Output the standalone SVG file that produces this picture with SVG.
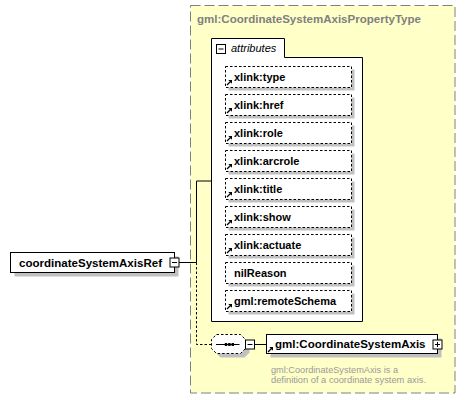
<svg xmlns="http://www.w3.org/2000/svg" width="467" height="400" viewBox="0 0 467 400">
<defs>
<style>
.b{font-family:"Liberation Sans",Arial,sans-serif;font-weight:bold;font-size:11px;fill:#000}
.title{font-family:"Liberation Sans",Arial,sans-serif;font-weight:bold;font-size:11px;fill:#808080}
.desc{font-family:"Liberation Sans",Arial,sans-serif;font-size:9px;fill:#9a9a9a}
.it{font-family:"Liberation Sans",Arial,sans-serif;font-style:italic;font-size:11px;fill:#000}
.sh{fill:#c0c0c0;stroke:none}
.att{fill:#fff;stroke:#000;stroke-width:1;stroke-dasharray:2.5,2}
.box{fill:#fff;stroke:#000;stroke-width:1}
.ic{fill:#fff;stroke:#000;stroke-width:1}
.ln{fill:none;stroke:#000;stroke-width:1}
.dl{fill:none;stroke:#000;stroke-width:1;stroke-dasharray:2.5,2}
</style>
<g id="arr">
<path d="M0.5,5 L4,1.5" stroke="#000" stroke-width="1.2" fill="none"/>
<path d="M1.8,0 L5.5,0 L5.5,3.7 Z" fill="#000"/>
</g>
</defs>

<g id="complexType">
<rect x="190.5" y="5.5" width="264.5" height="387.5" fill="#ffffc8" stroke="#808080" stroke-width="1" stroke-dasharray="10,4"/>
<text class="title" x="197" y="23" textLength="224" lengthAdjust="spacingAndGlyphs">gml:CoordinateSystemAxisPropertyType</text>
</g>

<g id="connectors">
<path class="ln" d="M179,262.5 H196.5 M196.5,181 V262.5 M196.5,181 H211"/>
<path class="dl" d="M196.5,262.5 V344.5 H211.5"/>
<path class="ln" d="M254.5,344.5 H266.5"/>
</g>

<g id="coordinateSystemAxisRef">
<rect class="sh" x="14.5" y="256.5" width="164" height="20"/>
<rect class="box" x="10.5" y="252.5" width="164" height="20"/>
<text class="b" x="19" y="266.5" textLength="143" lengthAdjust="spacingAndGlyphs">coordinateSystemAxisRef</text>
<rect class="ic" x="170" y="258" width="9" height="9"/>
<path class="ln" d="M172,262.5 H177"/>
</g>

<g id="attributes">
<path class="box" d="M211.5,38.5 H284.5 V57.5 H362.5 V321.5 H211.5 Z"/>
<rect class="ic" x="216.5" y="44.5" width="9" height="9"/>
<path class="ln" d="M218.5,49 H223.5"/>
<text class="it" x="231" y="52">attributes</text>
</g>

<g id="attr-xlink-type">
<rect class="sh" x="228.5" y="69.5" width="126" height="21"/>
<rect class="att" x="225.5" y="66.5" width="126" height="21"/>
<use href="#arr" x="226.5" y="80"/>
<text class="b" x="234" y="80.5">xlink:type</text>
</g>
<g id="attr-xlink-href">
<rect class="sh" x="228.5" y="97.5" width="126" height="21"/>
<rect class="att" x="225.5" y="94.5" width="126" height="21"/>
<use href="#arr" x="226.5" y="108"/>
<text class="b" x="234" y="108.5">xlink:href</text>
</g>
<g id="attr-xlink-role">
<rect class="sh" x="228.5" y="125.5" width="126" height="21"/>
<rect class="att" x="225.5" y="122.5" width="126" height="21"/>
<use href="#arr" x="226.5" y="136"/>
<text class="b" x="234" y="136.5">xlink:role</text>
</g>
<g id="attr-xlink-arcrole">
<rect class="sh" x="228.5" y="153.5" width="126" height="21"/>
<rect class="att" x="225.5" y="150.5" width="126" height="21"/>
<use href="#arr" x="226.5" y="164"/>
<text class="b" x="234" y="164.5">xlink:arcrole</text>
</g>
<g id="attr-xlink-title">
<rect class="sh" x="228.5" y="181.5" width="126" height="21"/>
<rect class="att" x="225.5" y="178.5" width="126" height="21"/>
<use href="#arr" x="226.5" y="192"/>
<text class="b" x="234" y="192.5">xlink:title</text>
</g>
<g id="attr-xlink-show">
<rect class="sh" x="228.5" y="209.5" width="126" height="21"/>
<rect class="att" x="225.5" y="206.5" width="126" height="21"/>
<use href="#arr" x="226.5" y="220"/>
<text class="b" x="234" y="220.5">xlink:show</text>
</g>
<g id="attr-xlink-actuate">
<rect class="sh" x="228.5" y="237.5" width="126" height="21"/>
<rect class="att" x="225.5" y="234.5" width="126" height="21"/>
<use href="#arr" x="226.5" y="248"/>
<text class="b" x="234" y="248.5">xlink:actuate</text>
</g>
<g id="attr-nilReason">
<rect class="sh" x="228.5" y="265.5" width="126" height="21"/>
<rect class="att" x="225.5" y="262.5" width="126" height="21"/>
<text class="b" x="234" y="276.5">nilReason</text>
</g>
<g id="attr-gml-remoteSchema">
<rect class="sh" x="228.5" y="293.5" width="126" height="21"/>
<rect class="att" x="225.5" y="290.5" width="126" height="21"/>
<use href="#arr" x="226.5" y="304"/>
<text class="b" x="234" y="304.5">gml:remoteSchema</text>
</g>

<g id="sequence">
<polygon class="sh" points="220.5,338.5 244.5,338.5 249.5,343.5 249.5,352.5 244.5,357.5 220.5,357.5 215.5,352.5 215.5,343.5"/>
<polygon class="att" points="216.5,334.5 240.5,334.5 245.5,339.5 245.5,348.5 240.5,353.5 216.5,353.5 211.5,348.5 211.5,339.5"/>
<path class="ln" d="M216,344.5 H239.5"/>
<rect x="224.8" y="343" width="2.4" height="3" fill="#000"/>
<rect x="228.2" y="343" width="2.4" height="3" fill="#000"/>
<rect x="231.6" y="343" width="2.4" height="3" fill="#000"/>
<rect class="ic" x="245.5" y="340" width="9" height="9"/>
<path class="ln" d="M247.5,344.5 H252.5"/>
</g>

<g id="gml-CoordinateSystemAxis">
<rect class="sh" x="270.5" y="338.5" width="171" height="19"/>
<rect class="box" x="266.5" y="334.5" width="171" height="19"/>
<use href="#arr" x="267.5" y="347"/>
<text class="b" x="275" y="348" textLength="150.5" lengthAdjust="spacingAndGlyphs">gml:CoordinateSystemAxis</text>
<rect class="ic" x="433" y="340" width="9" height="9"/>
<path class="ln" d="M435,344.5 H440 M437.5,342 V347"/>
<text class="desc" x="271" y="372.5" textLength="127" lengthAdjust="spacingAndGlyphs">gml:CoordinateSystemAxis is a</text>
<text class="desc" x="271" y="382.5" textLength="155" lengthAdjust="spacingAndGlyphs">definition of a coordinate system axis.</text>
</g>
</svg>
